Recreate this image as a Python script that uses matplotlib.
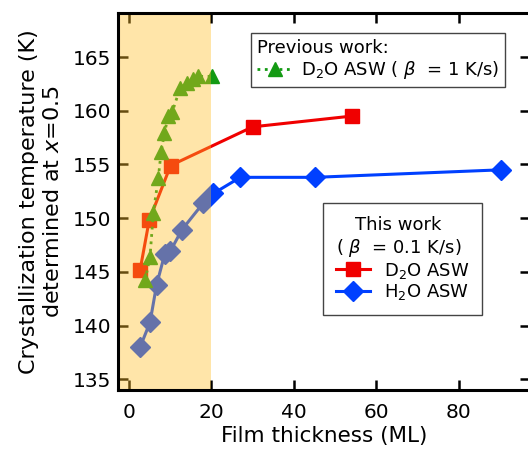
import matplotlib
matplotlib.use('Agg')
import matplotlib.pyplot as plt
from matplotlib.lines import Line2D

plt.rcParams['font.family'] = ['DejaVu Sans']
plt.rcParams['mathtext.fontset'] = 'dejavusans'

# previous work: D2O ASW heated at 1 K/s
prev_d2o_thickness = [3.9, 5.1, 5.9, 7.1, 7.8, 8.6, 9.5, 10.5, 12.4, 14.0, 15.6, 16.8, 20.2]
prev_d2o_temp = [144.2, 146.4, 150.5, 153.7, 156.2, 157.9, 159.5, 159.9,
                 162.1, 162.6, 163.0, 163.2, 163.2]

# this work: 0.1 K/s
d2o_thickness = [2.7, 4.9, 10.1, 30.0, 54.0]
d2o_temp = [145.2, 149.8, 154.9, 158.5, 159.5]

h2o_thickness = [2.7, 5.1, 6.7, 8.7, 10.0, 12.8, 18.0, 20.5, 27.0, 45.1, 90.3]
h2o_temp = [138.0, 140.3, 143.8, 146.7, 146.9, 148.9, 151.4, 152.3, 153.8, 153.8, 154.5]

x_ticks = [0, 20, 40, 60, 80]
y_ticks = [135, 140, 145, 150, 155, 160, 165]
thin_film_limit = 20

red = '#f00000'
blue = '#0040ff'
green = '#139a13'

fig = plt.figure(figsize=(5.28, 4.57), dpi=100)
ax = fig.add_axes([118 / 528, 67 / 457, 412 / 528, 377 / 457])

ax.plot(d2o_thickness, d2o_temp, color=red, lw=2.2, marker='s', ms=10,
        mec=red, zorder=2)
ax.plot(h2o_thickness, h2o_temp, color=blue, lw=2.2, marker='D', ms=10,
        mec=blue, zorder=2.1)
ax.plot(prev_d2o_thickness, prev_d2o_temp, color=green, lw=2, ls=':',
        marker='^', ms=10, mec=green, zorder=2.2)

xmin, xmax = -2.67, 97.3
ax.set_xlim(xmin, xmax)
ax.set_ylim(134.0, 169.1)

# thin-film region, overlaid semi-transparently
ax.axvspan(xmin, thin_film_limit, color=(1.0, 0.745, 0.157), alpha=0.4,
           lw=0, zorder=4)

ax.set_xticks(x_ticks)
ax.set_yticks(y_ticks)
ax.tick_params(direction='in', length=7, width=1.8, top=True, right=True,
               labelsize=14.5)
ax.tick_params(axis='x', pad=9)
ax.tick_params(axis='y', pad=5)
for sp in ax.spines.values():
    sp.set_linewidth(2.2)
    sp.set_zorder(5)

ax.set_xlabel('Film thickness (ML)', fontsize=15.5, labelpad=3)
ax.set_ylabel('Crystallization temperature (K)\ndetermined at $x$=0.5',
              fontsize=16, labelpad=7, linespacing=1.25)

prev_handle = Line2D([], [], color=green, lw=2, ls=':', marker='^', ms=10, mec=green)
leg1 = ax.legend([prev_handle], [r'D$_2$O ASW ( $\beta$  = 1 K/s)'],
                 title='Previous work:', loc='upper left',
                 bbox_to_anchor=(0.323, 0.947), borderaxespad=0,
                 fontsize=13, title_fontsize=13, fancybox=False,
                 edgecolor='#444444', framealpha=1, handlelength=1.9,
                 handletextpad=0.5, borderpad=0.35, labelspacing=0.1,
                 alignment='left')
leg1.get_frame().set_linewidth(1.0)
ax.add_artist(leg1)

d2o_handle = Line2D([], [], color=red, lw=2.2, marker='s', ms=10, mec=red)
h2o_handle = Line2D([], [], color=blue, lw=2.2, marker='D', ms=10, mec=blue)
leg2 = ax.legend([d2o_handle, h2o_handle], [r'D$_2$O ASW', r'H$_2$O ASW'],
                 title='This work\n' + r'( $\beta$  = 0.1 K/s)', loc='upper left',
                 bbox_to_anchor=(0.4976, 0.496), borderaxespad=0,
                 fontsize=13, title_fontsize=13, fancybox=False,
                 edgecolor='#444444', framealpha=1, handlelength=1.9,
                 handletextpad=0.8, borderpad=0.7, labelspacing=0.1,
                 alignment='left')
leg2.get_title().set_multialignment('center')
leg2.get_frame().set_linewidth(1.0)

fig.savefig('out.png', dpi=100)
